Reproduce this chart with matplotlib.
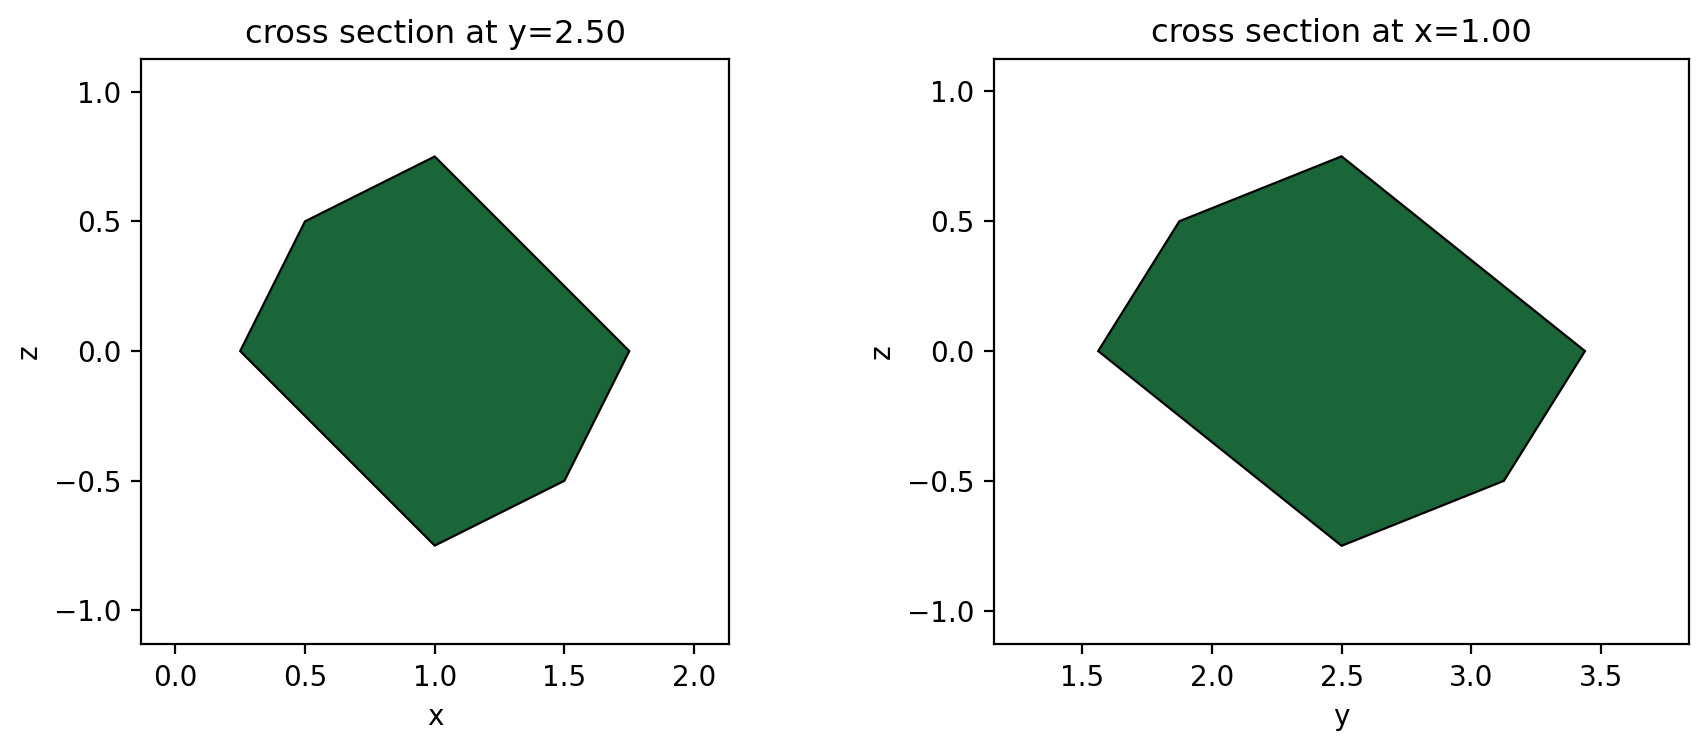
import numpy as np
import matplotlib.pyplot as plt
from matplotlib.patches import Polygon

FILL = "#1a6638"

# cross section at y=2.50 (x, z vertices)
xz_x = [0.25, 0.5, 1.0, 1.75, 1.5, 1.0]
xz_z = [0.0, 0.5, 0.75, 0.0, -0.5, -0.75]

# cross section at x=1.00 (y, z vertices)
yz_y = [1.5625, 1.875, 2.5, 3.4375, 3.125, 2.5]
yz_z = [0.0, 0.5, 0.75, 0.0, -0.5, -0.75]

PANELS = [
    ("cross section at y=2.50", "x", xz_x, xz_z, (-0.132, 2.135),
     [0.0826, 0.1364, 0.3443, 0.7868]),
    ("cross section at x=1.00", "y", yz_y, yz_z, (1.16, 3.837),
     [0.5818, 0.1364, 0.4069, 0.7868]),
]


def main() -> None:
    fig = plt.figure(figsize=(8.54, 3.74), dpi=200)

    for title, xlabel, hx, hz, xlim, pos in PANELS:
        ax = fig.add_axes(pos)
        poly = Polygon(np.column_stack([hx, hz]), closed=True,
                       facecolor=FILL, edgecolor="black", lw=0.8)
        ax.add_patch(poly)
        ax.set_xlim(*xlim)
        ax.set_ylim(-1.13, 1.125)
        ax.set_aspect("equal", adjustable="box")
        ax.set_xticks(np.arange(np.ceil(xlim[0] * 2) / 2, xlim[1], 0.5))
        ax.set_yticks(np.arange(-1.0, 1.01, 0.5))
        ax.set_title(title, fontsize=11.6)
        ax.set_xlabel(xlabel)
        ax.set_ylabel("z")

    fig.savefig("out.png", dpi=200)


if __name__ == "__main__":
    main()
